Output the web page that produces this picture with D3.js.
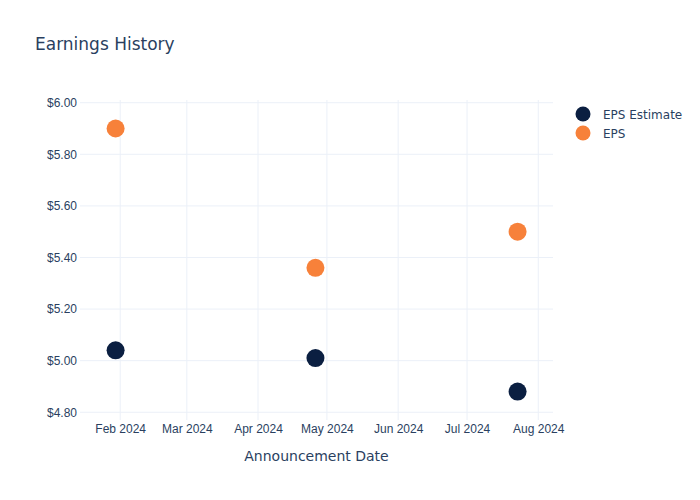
<!DOCTYPE html>
<html><head><meta charset="utf-8">
<script src="https://cdn.jsdelivr.net/npm/d3@7"></script>
<style>body{margin:0;background:#fff;} svg{font-family:"DejaVu Sans",sans-serif;}</style>
</head><body>
<svg id="c" width="700" height="500"></svg>
<script>
const dates = ["2024-01-30", "2024-04-26", "2024-07-23"];
const epsEstimate = [5.04, 5.01, 4.88];
const eps = [5.90, 5.36, 5.50];
const yTicks = [4.8, 5.0, 5.2, 5.4, 5.6, 5.8, 6.0];
const xTicks = ["2024-02-01","2024-03-01","2024-04-01","2024-05-01","2024-06-01","2024-07-01","2024-08-01"];
const seriesNames = ["EPS Estimate", "EPS"];
const colors = ["#0b1f41", "#f7813a"];

const svg = d3.select("#c");
const L = 80, R = 553, T = 100, B = 420;
const parse = d3.utcParse("%Y-%m-%d");
const x = d3.scaleUtc().domain([new Date(Date.UTC(2024, 0, 14, 12)), new Date(Date.UTC(2024, 7, 7, 10))]).range([L, R]);
const y = d3.scaleLinear().domain([4.770, 6.0105]).range([B, T]);
const grid = "#ebf0f8", txt = "#2a3f5f";

// grid
svg.append("g").selectAll("line").data(yTicks).join("line")
  .attr("x1", L).attr("x2", R).attr("y1", d => y(d)).attr("y2", d => y(d))
  .attr("stroke", grid).attr("stroke-width", 1);
svg.append("g").selectAll("line").data(xTicks).join("line")
  .attr("x1", d => x(parse(d))).attr("x2", d => x(parse(d))).attr("y1", T).attr("y2", B)
  .attr("stroke", grid).attr("stroke-width", 1);

// y axis
const yAxis = d3.axisLeft(y).tickValues(yTicks).tickSize(0).tickPadding(3).tickFormat(d => "$" + d3.format(".2f")(d));
const ga = svg.append("g").attr("transform", `translate(${L},0)`).call(yAxis);
ga.select(".domain").remove();
ga.selectAll("text").attr("fill", txt).style("font-size", "12px");

// x axis
const xAxis = d3.axisBottom(x).tickValues(xTicks.map(parse)).tickSize(0).tickPadding(4).tickFormat(d3.utcFormat("%b %Y"));
const gx = svg.append("g").attr("transform", `translate(0,${B})`).call(xAxis);
gx.select(".domain").remove();
gx.selectAll("text").attr("fill", txt).style("font-size", "12px");

// points
const series = [epsEstimate, eps];
series.forEach((vals, i) => {
  svg.append("g").selectAll("circle").data(vals).join("circle")
    .attr("cx", (d, j) => x(parse(dates[j]))).attr("cy", d => y(d)).attr("r", 9)
    .attr("fill", colors[i]);
});

// title
svg.append("text").attr("x", 35).attr("y", 50).attr("fill", txt).style("font-size", "17px").text("Earnings History");
svg.append("text").attr("x", (L + R) / 2).attr("y", 461).attr("text-anchor", "middle").attr("fill", txt).style("font-size", "14px").text("Announcement Date");

// legend
seriesNames.forEach((n, i) => {
  const g = svg.append("g").attr("transform", `translate(583,${114 + i * 19})`);
  g.append("circle").attr("r", 7.5).attr("fill", colors[i]);
  g.append("text").attr("x", 20).attr("y", 4.5).attr("fill", txt).style("font-size", "12px").text(n);
});
</script>
</body></html>
